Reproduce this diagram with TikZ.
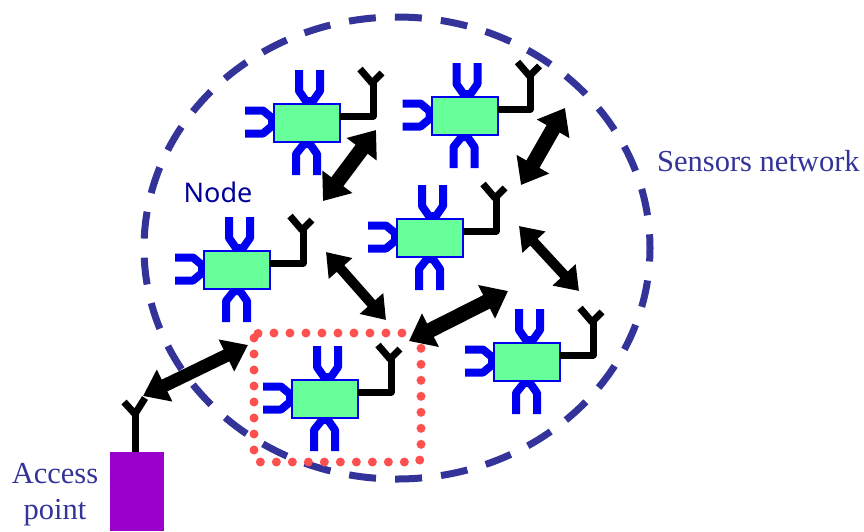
\documentclass[tikz,border=0pt]{standalone}
\usepackage{fontspec}
\setmainfont{Liberation Serif}
\newfontfamily\nodefont{Noto Sans}
\usetikzlibrary{arrows.meta}
\definecolor{netblue}{HTML}{333399}
\definecolor{pinblue}{HTML}{0000F0}
\definecolor{labelblue}{HTML}{000099}
\definecolor{bodygreen}{HTML}{66FF99}
\definecolor{dotred}{HTML}{FF5050}
\definecolor{appurple}{HTML}{9900CC}
\tikzset{
  x=1pt,y=-1pt,
  pinline/.style={draw=pinblue,line width=8pt,line join=round},
  antline/.style={draw=black,line width=7pt,line join=round},
  bodybox/.style={draw=pinblue,fill=bodygreen,line width=2pt,minimum width=66pt,minimum height=38pt,inner sep=0pt,outer sep=0pt},
  bigarrow/.style={draw=black,line width=15pt,{Triangle[width=36pt,length=24pt]}-{Triangle[width=36pt,length=24pt]}},
  midarrow/.style={draw=black,line width=13pt,{Triangle[width=34pt,length=24pt]}-{Triangle[width=34pt,length=24pt]}},
  thinarrow/.style={draw=black,line width=10pt,{Triangle[width=30pt,length=22pt]}-{Triangle[width=30pt,length=22pt]}},
  nettext/.style={text=netblue,font=\fontsize{30.5}{34}\selectfont,inner sep=0pt},
  sensor/.pic={
    \draw[pinline] (-8,-53)--(-8,-32)--(-1,-22)--(6,-22)--(13,-32)--(13,-53);
    \draw[pinline] (-11,52)--(-11,31)--(-3,21)--(3,21)--(10,31)--(10,52);
    \draw[pinline] (-62,-12.5)--(-44,-12.5)--(-35,-5)--(-35,3)--(-44,10.5)--(-62,10.5);
    \node[bodybox] (-body) at (0,0) {};
    \draw[antline] (33,-7)--(66,-7)--(66,-41);
    \draw[antline] (53,-54)--(65,-40)--(75,-50);
  }
}
\begin{document}
\begin{tikzpicture}
\useasboundingbox (0,0) rectangle (864,531);
% network boundary
\node[draw=none,minimum size=0pt,inner sep=0pt] (netcentre) at (397,248) {};
\draw[netblue,line width=7pt,dash pattern=on 27pt off 19.1pt,dash phase=13.5pt] (netcentre) ellipse [x radius=253,y radius=231];
% sensors
\pic (n1) at (307,123) {sensor};
\pic (n2) at (464.5,116) {sensor};
\pic (n3) at (430,238) {sensor};
\pic (n4) at (237,270) {sensor};
\pic (n5) at (325,399) {sensor};
\pic (n6) at (527,362) {sensor};
% access point
\node[fill=appurple,minimum width=54pt,minimum height=79pt,inner sep=0pt,outer sep=0pt] (ap) at (137,491.5) {};
\coordinate (apant) at (135,414);
\draw[antline] (ap.north -| apant)--(apant);
\draw[antline] (124,402)--(apant)--(145,398);
% selected node frame
\draw[dotred,line width=9pt,line cap=round,dash pattern=on 0pt off 16pt,rounded corners=5pt] (254,333) rectangle (421,462);
% links
\coordinate (a1) at (376,130); \coordinate (a2) at (323,201);
\coordinate (b1) at (565,108); \coordinate (b2) at (521,185);
\coordinate (c1) at (519,226); \coordinate (c2) at (579,291);
\coordinate (d1) at (326,252); \coordinate (d2) at (386,320);
\coordinate (e1) at (508,291); \coordinate (e2) at (409,341);
\coordinate (f1) at (248,345); \coordinate (f2) at (143,396);
\draw[bigarrow] (a1)--(a2);
\draw[bigarrow] (b1)--(b2);
\draw[thinarrow] (c1)--(c2);
\draw[thinarrow] (d1)--(d2);
\draw[bigarrow] (e1)--(e2);
\draw[midarrow] (f1)--(f2);
% labels
\node[text=labelblue,font=\nodefont\fontsize{27}{30}\selectfont,inner sep=0pt] (nodelabel) at (218,192) {Node};
\node[nettext,anchor=west] (netlabel) at (657,161) {Sensors network};
\node[nettext] (aplabel1) at (55,474) {Access};
\node[nettext] (aplabel2) at (55,513) {point};
\end{tikzpicture}
\end{document}
